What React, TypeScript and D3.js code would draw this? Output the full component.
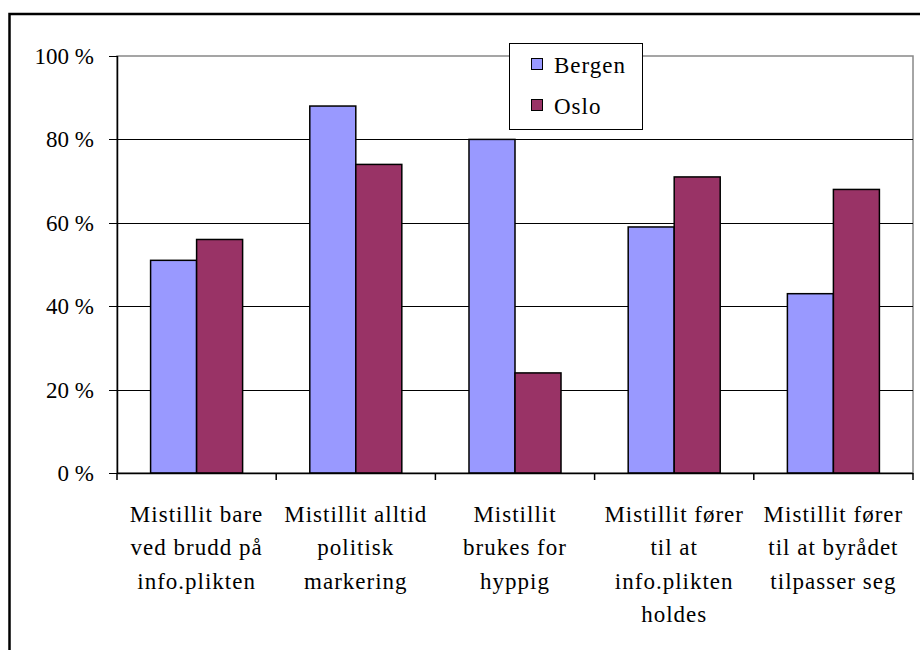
import React from "react";
import * as d3 from "d3";

const categories: string[][] = [
  ["Mistillit bare", "ved brudd på", "info.plikten"],
  ["Mistillit alltid", "politisk", "markering"],
  ["Mistillit", "brukes for", "hyppig"],
  ["Mistillit fører", "til at", "info.plikten", "holdes"],
  ["Mistillit fører", "til at byrådet", "tilpasser seg"],
];
const seriesNames = ["Bergen", "Oslo"];
const bergen = [51, 88, 80, 59, 43];
const oslo = [56, 74, 24, 71, 68];
const colors = ["#9999FF", "#993366"];
const yTicks = [0, 20, 40, 60, 80, 100];

const W = 920;
const H = 650;
const plot = { left: 117, right: 913, top: 56, bottom: 473 };
const numStyle: React.CSSProperties = {
  fontFamily: "Liberation Serif",
  fontSize: "23px",
};
const wordStyle: React.CSSProperties = {
  fontFamily: "Liberation Serif",
  fontSize: "23px",
  letterSpacing: "1px",
};

export default function App() {
  const x = d3
    .scaleBand<number>()
    .domain(categories.map((_, i) => i))
    .range([plot.left, plot.right]);
  const y = d3.scaleLinear().domain([0, 100]).range([plot.bottom, plot.top]);
  const barW = x.bandwidth() * 0.289;
  const series = [bergen, oslo];

  return (
    <svg
      width={W}
      height={H}
      style={{ position: "absolute", left: 0, top: 0, background: "#fff" }}
    >
      {/* outer chart frame */}
      <rect x={9.5} y={14} width={W + 20} height={H + 20} fill="#fff" stroke="#000" strokeWidth={2.5} />

      {/* plot area frame */}
      <rect
        x={plot.left}
        y={plot.top}
        width={plot.right - plot.left}
        height={plot.bottom - plot.top}
        fill="#fff"
        stroke="#888"
        strokeWidth={1.5}
      />

      {/* gridlines and y ticks */}
      {yTicks.map((t) => (
        <g key={t}>
          {t > 0 && t < 100 && (
            <line x1={plot.left} x2={plot.right} y1={Math.round(y(t)) + 0.5} y2={Math.round(y(t)) + 0.5} stroke="#000" strokeWidth={1} />
          )}
          <line x1={plot.left - 8} x2={plot.left} y1={Math.round(y(t)) + 0.5} y2={Math.round(y(t)) + 0.5} stroke="#000" strokeWidth={1} />
          <text x={94} y={y(t) + 8} textAnchor="end" style={numStyle} fill="#000">
            {`${t} %`}
          </text>
        </g>
      ))}

      {/* bars */}
      {series.map((vals, s) =>
        vals.map((v, i) => {
          const cx = (x(i) as number) + x.bandwidth() / 2;
          const bx = s === 0 ? cx - barW : cx;
          return (
            <rect
              key={`${s}-${i}`}
              x={bx}
              y={y(v)}
              width={barW}
              height={plot.bottom - y(v)}
              fill={colors[s]}
              stroke="#000"
              strokeWidth={1.5}
            />
          );
        })
      )}

      {/* axes */}
      <line x1={plot.left + 0.5} x2={plot.left + 0.5} y1={plot.top} y2={plot.bottom} stroke="#000" strokeWidth={1.5} />
      <line x1={plot.left} x2={plot.right} y1={plot.bottom + 0.5} y2={plot.bottom + 0.5} stroke="#000" strokeWidth={1.5} />
      {d3.range(categories.length + 1).map((i) => {
        const tx = plot.left + i * x.step();
        return <line key={i} x1={tx} x2={tx} y1={plot.bottom} y2={plot.bottom + 7} stroke="#000" strokeWidth={1.5} />;
      })}

      {/* category labels */}
      {categories.map((lines, i) => {
        const cx = (x(i) as number) + x.bandwidth() / 2;
        return (
          <text key={i} x={cx} textAnchor="middle" style={wordStyle} fill="#000">
            {lines.map((ln, j) => (
              <tspan key={j} x={cx} y={521.5 + j * 33.5}>
                {ln}
              </tspan>
            ))}
          </text>
        );
      })}

      {/* legend */}
      <g>
        <rect x={509.5} y={43.5} width={133} height={86} fill="#fff" stroke="#000" strokeWidth={1} />
        {seriesNames.map((name, i) => (
          <g key={name}>
            <rect x={531.5} y={58.5 + i * 41} width={11} height={11} fill={colors[i]} stroke="#000" strokeWidth={1} />
            <text x={554} y={73 + i * 41} style={wordStyle} fill="#000">
              {name}
            </text>
          </g>
        ))}
      </g>
    </svg>
  );
}
